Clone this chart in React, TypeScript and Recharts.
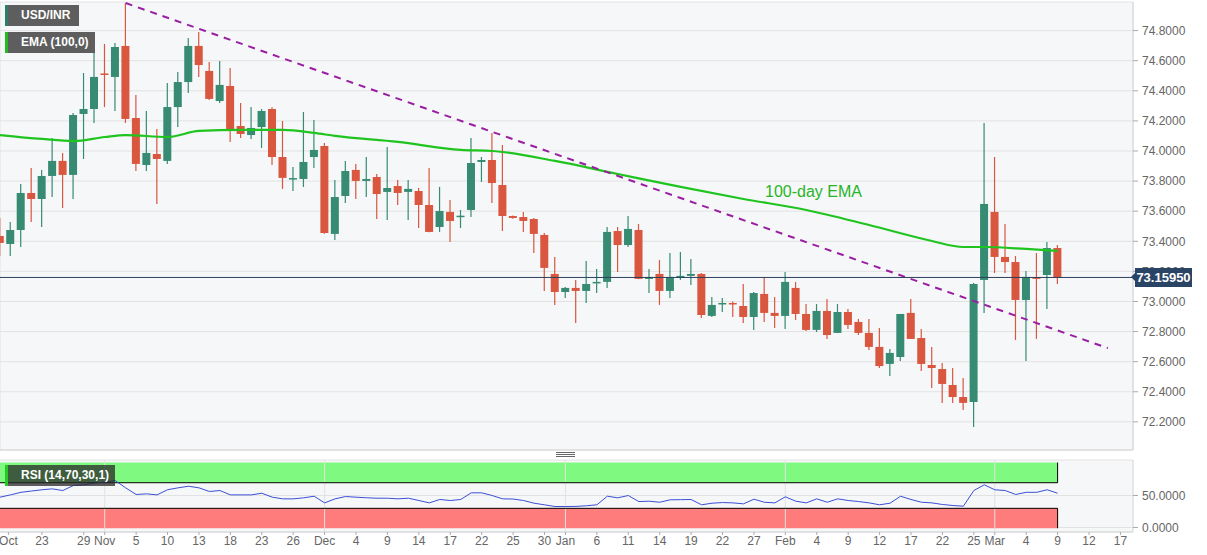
import {
  Bar,
  CartesianGrid,
  ComposedChart,
  Line,
  ReferenceArea,
  ReferenceLine,
  XAxis,
  YAxis,
} from "recharts"

// trading-day index: 0 = Oct 23, 97 = Mar 9
const days = Array.from({ length: 102 }, (_, k) => k - 4)

const openVals = [
  73.435, 73.382, 73.475, 73.721, 73.681, 73.834, 73.934, 73.841, 74.246, 74.279,
  74.515, 74.492, 74.698, 74.219, 73.907, 73.98, 73.934, 74.292, 74.458, 74.698,
  74.532, 74.332, 74.432, 74.166, 74.106, 74.159, 74.279, 73.96, 73.814, 73.814,
  73.96, 74.033, 73.449, 73.701, 73.874, 73.801, 73.827, 73.728, 73.767, 73.728,
  73.734, 73.641, 73.495, 73.595, 73.565, 73.608, 73.927, 73.94, 73.774, 73.568,
  73.561, 73.548, 73.442, 73.183, 73.063, 73.09, 73.07, 73.123, 73.13, 73.468,
  73.375, 73.475, 73.15, 73.183, 73.07, 73.156, 73.17, 73.183, 72.904, 72.984,
  72.99, 72.97, 72.897, 73.05, 72.924, 72.904, 73.09, 72.917, 72.811, 72.937,
  72.791, 72.93, 72.864, 72.791, 72.698, 72.585, 72.631, 72.924, 72.757, 72.578,
  72.551, 72.445, 72.365, 72.332, 73.143, 73.595, 73.296, 73.262, 73.01, 73.16,
  73.176, 73.355,
]
const highVals = [
  73.555, 73.528, 73.781, 73.887, 73.874, 74.086, 73.987, 74.252, 74.518, 74.684,
  74.711, 74.718, 74.983, 74.372, 74.266, 74.146, 74.452, 74.525, 74.751, 74.791,
  74.591, 74.598, 74.551, 74.319, 74.292, 74.279, 74.29, 74.199, 73.894, 74.259,
  74.206, 74.053, 73.807, 73.934, 73.914, 73.96, 73.847, 74.027, 73.807, 73.807,
  73.754, 73.887, 73.761, 73.674, 73.608, 74.086, 73.96, 74.12, 74.04, 73.572,
  73.595, 73.555, 73.455, 73.296, 73.096, 73.143, 73.269, 73.216, 73.495, 73.495,
  73.568, 73.515, 73.216, 73.276, 73.322, 73.329, 73.283, 73.19, 73.03, 73.023,
  73.0, 73.116, 73.063, 73.163, 73.03, 73.196, 73.13, 72.983, 72.983, 73.017,
  72.983, 72.95, 72.884, 72.884, 72.824, 72.684, 72.917, 73.017, 72.817, 72.698,
  72.591, 72.558, 72.492, 73.123, 74.186, 73.96, 73.515, 73.302, 73.203, 73.322,
  73.395, 73.375,
]
const lowVals = [
  73.302, 73.302, 73.362, 73.528, 73.495, 73.694, 73.621, 73.681, 73.947, 74.186,
  74.292, 74.266, 74.186, 73.867, 73.867, 73.648, 73.914, 74.159, 74.385, 74.492,
  74.339, 74.319, 74.06, 74.086, 74.08, 74.02, 73.907, 73.748, 73.734, 73.761,
  73.887, 73.45, 73.409, 73.654, 73.681, 73.694, 73.548, 73.542, 73.641, 73.542,
  73.488, 73.46, 73.462, 73.395, 73.488, 73.561, 73.794, 73.654, 73.468, 73.55,
  73.462, 73.322, 73.07, 72.977, 73.023, 72.857, 72.99, 73.056, 73.09, 73.196,
  73.362, 73.148, 73.056, 72.977, 73.023, 73.143, 73.11, 72.89, 72.897, 72.93,
  72.897, 72.857, 72.811, 72.864, 72.824, 72.817, 72.877, 72.804, 72.797, 72.751,
  72.79, 72.817, 72.777, 72.678, 72.558, 72.505, 72.605, 72.75, 72.538, 72.425,
  72.326, 72.326, 72.279, 72.166, 72.924, 73.189, 73.189, 72.744, 72.605, 72.751,
  72.95, 73.116,
]
const closeVals = [
  73.389, 73.475, 73.721, 73.681, 73.834, 73.934, 73.841, 74.239, 74.279, 74.492,
  74.508, 74.691, 74.213, 73.914, 73.987, 73.947, 74.292, 74.458, 74.698, 74.571,
  74.346, 74.439, 74.146, 74.113, 74.153, 74.266, 73.96, 73.821, 73.82, 73.927,
  74.007, 73.455, 73.694, 73.867, 73.801, 73.814, 73.714, 73.754, 73.721, 73.748,
  73.641, 73.462, 73.601, 73.535, 73.57, 73.92, 73.94, 73.787, 73.568, 73.555,
  73.535, 73.449, 73.223, 73.063, 73.09, 73.07, 73.116, 73.13, 73.462, 73.375,
  73.482, 73.15, 73.163, 73.07, 73.163, 73.17, 73.183, 72.91, 72.977, 72.99,
  72.984, 72.897, 73.056, 72.924, 72.904, 73.13, 72.917, 72.811, 72.937, 72.777,
  72.93, 72.844, 72.791, 72.698, 72.571, 72.658, 72.917, 72.751, 72.585, 72.558,
  72.452, 72.365, 72.326, 73.116, 73.648, 73.296, 73.262, 73.01, 73.163, 73.155,
  73.355, 73.16,
]
const rsiVals = [
  47.4, 51, 55, 57, 59, 60.4, 57.8, 65.6, 66.7, 69.3,
  71, 73.4, 62, 51.6, 52.6, 51, 59, 62, 64.5, 62,
  56.3, 57.8, 51, 51, 51, 53.6, 47.4, 44.8, 44.8, 46.4,
  48.9, 38.5, 44.8, 48.4, 47.4, 46.5, 45.8, 45.8, 44.8, 45.8,
  42.2, 38.5, 43.8, 42.2, 43.8, 54.2, 54.2, 50, 44.8, 44.5,
  42.2, 38, 35.5, 32.8, 32.8, 33, 34, 35.5, 48.9, 46.4,
  50, 40.6, 41.1, 39.5, 43.3, 43.5, 43.8, 35.5, 38, 39,
  38.5, 37, 44.2, 39.5, 38.5, 48, 41.1, 38.5, 44.8, 39.5,
  44.8, 42.2, 40.6, 38.5, 35.5, 38, 48.9, 43.8, 39.5, 38.5,
  36, 34.4, 33.3, 57.8, 66.7, 59, 57.8, 51.6, 55, 55,
  59, 53.6,
]

const emaDays = [-4, 0, 3, 6, 8, 12, 15, 19, 23, 26, 28, 34, 40, 43, 49, 55, 61, 67, 73, 79, 85, 88, 90, 94, 97]
const emaVals = [
  74.106, 74.08, 74.066, 74.093, 74.106, 74.093, 74.133, 74.14, 74.14, 74.12, 74.1, 74.06, 74.007,
  74.0, 73.934, 73.847, 73.761, 73.681, 73.608, 73.508, 73.402, 73.362, 73.362, 73.349, 73.336,
]

const trendPts = [
  { x: 8, y: 74.983 },
  { x: 101.8, y: 72.69 },
]
const lastPrice = 73.1595

const priceTicks = [72.2, 72.4, 72.6, 72.8, 73.0, 73.2, 73.4, 73.6, 73.8, 74.0, 74.2, 74.4, 74.6, 74.8]
const rsiTicks = [0, 50]
const monthDays = [6, 27, 50, 71, 91]
const tickDays = [
  -3.2, 0, 4, 6, 9, 12, 15, 18, 21, 24, 27, 30, 33, 36, 39, 42, 45, 48, 50, 53, 56, 59, 62, 65, 68,
  71, 74, 77, 80, 83, 86, 89, 91, 94, 97, 100, 103,
]
const tickLabels = [
  "Oct", "23", "29", "Nov", "5", "10", "13", "18", "23", "26", "Dec", "4", "9", "14", "17", "22",
  "25", "30", "Jan", "6", "11", "14", "19", "22", "27", "Feb", "4", "9", "12", "17", "22", "25",
  "Mar", "4", "9", "12", "17",
]

const rows = days.map((d, k) => {
  const e = emaDays.indexOf(d)
  return {
    d,
    open: openVals[k],
    high: highVals[k],
    low: lowVals[k],
    close: closeVals[k],
    rsi: rsiVals[k],
    ema: e >= 0 ? emaVals[e] : null,
  }
})

const GREEN = "#368b72"
const RED = "#d9563f"
const FONT = "'Liberation Sans', Arial, sans-serif"
const X_DOMAIN: [number, number] = [-4, 104.2]
const Y_DOMAIN: [number, number] = [72.013, 74.99]
const PLOT_TOP = 2
const PLOT_H = 448

const Candle = (props: any) => {
  const { x, y, width, height, payload } = props
  if (!payload || height == null) return null
  const { open, close, high, low } = payload
  const up = close >= open
  const color = up ? GREEN : RED
  const ratio = high > low ? height / (high - low) : 0
  const top = y + (high - Math.max(open, close)) * ratio
  const bot = y + (high - Math.min(open, close)) * ratio
  const cx = x + width / 2
  return (
    <g>
      <line x1={cx} x2={cx} y1={y} y2={y + height} stroke={color} strokeWidth={1.2} />
      <rect x={x} y={top} width={width} height={Math.max(1.5, bot - top)} fill={color} />
    </g>
  )
}

const tag = (bg: string, strip: string): React.CSSProperties => ({
  position: "absolute",
  background: bg,
  borderLeft: `3px solid ${strip}`,
  color: "#fff",
  fontSize: 12,
  fontWeight: "bold",
  fontFamily: FONT,
  lineHeight: "21px",
  height: 21,
  paddingLeft: 13,
  boxSizing: "border-box",
})

// vertical position of the last-price tag, from the axis domain
const priceY = PLOT_TOP + ((Y_DOMAIN[1] - lastPrice) / (Y_DOMAIN[1] - Y_DOMAIN[0])) * PLOT_H

export default function App() {
  return (
    <div style={{ position: "absolute", left: 0, top: 0, width: 1207, height: 555, background: "#fff", fontFamily: FONT }}>
      <div style={{ position: "absolute", left: 0, top: 0 }}>
        <ComposedChart width={1207} height={452} data={rows} margin={{ top: PLOT_TOP, right: 0, left: 0, bottom: 0 }}>
          <CartesianGrid fill="#f6f7f9" stroke="#e2e2e2" horizontal vertical />
          <XAxis
            dataKey="d"
            type="number"
            domain={X_DOMAIN}
            allowDataOverflow
            ticks={monthDays}
            tick={false}
            tickLine={false}
            height={2}
            axisLine={{ stroke: "#d4d4d4" }}
          />
          <YAxis
            orientation="right"
            width={74}
            type="number"
            domain={Y_DOMAIN}
            allowDataOverflow
            ticks={priceTicks}
            interval={0}
            tickFormatter={(v: number) => v.toFixed(4)}
            tick={{ fill: "#666", fontSize: 12, fontFamily: FONT }}
            tickLine={{ stroke: "#aaa" }}
            tickSize={5}
            tickMargin={4}
            axisLine={{ stroke: "#d4d4d4" }}
          />
          <Bar dataKey={(r: any) => [r.low, r.high]} barSize={8} shape={Candle} isAnimationActive={false} />
          <Line
            dataKey="ema"
            type="monotone"
            connectNulls
            stroke="#1fc41f"
            strokeWidth={2.2}
            dot={false}
            activeDot={false}
            isAnimationActive={false}
          />
          <ReferenceLine segment={trendPts} stroke="#9a1ea2" strokeWidth={2} strokeDasharray="7 6" />
          <ReferenceLine y={lastPrice} stroke="#2b3f5c" strokeWidth={1} />
        </ComposedChart>
      </div>

      <div style={{ position: "absolute", left: 0, top: 457 }}>
        <ComposedChart width={1207} height={98} data={rows} margin={{ top: 3, right: 0, left: 0, bottom: 0 }}>
          <CartesianGrid fill="#f6f7f9" stroke="#e2e2e2" horizontal vertical={false} />
          {monthDays.map((m) => (
            <ReferenceLine key={m} x={m} stroke="#e2e2e2" />
          ))}
          <XAxis
            dataKey="d"
            type="number"
            domain={X_DOMAIN}
            allowDataOverflow
            ticks={tickDays}
            interval={0}
            tickFormatter={(v: number) => tickLabels[tickDays.indexOf(v)] ?? ""}
            tick={{ fill: "#666", fontSize: 12, fontFamily: FONT }}
            tickLine={{ stroke: "#aaa" }}
            tickSize={3}
            tickMargin={1}
            height={23}
            axisLine={{ stroke: "#d4d4d4" }}
          />
          <YAxis
            orientation="right"
            width={74}
            type="number"
            domain={[-7, 105.5]}
            allowDataOverflow
            ticks={rsiTicks}
            interval={0}
            tickFormatter={(v: number) => v.toFixed(4)}
            tick={{ fill: "#666", fontSize: 12, fontFamily: FONT }}
            tickLine={{ stroke: "#aaa" }}
            tickSize={5}
            tickMargin={4}
            axisLine={{ stroke: "#d4d4d4" }}
          />
          <ReferenceArea x1={-4} x2={97} y1={70} y2={101.5} fill="#7ff97f" fillOpacity={1} stroke="none" />
          <ReferenceArea x1={-4} x2={97} y1={-1} y2={30} fill="#ff7c7c" fillOpacity={1} stroke="none" />
          <ReferenceLine segment={[{ x: -4, y: 70 }, { x: 97, y: 70 }]} stroke="#000" />
          <ReferenceLine segment={[{ x: -4, y: 30 }, { x: 97, y: 30 }]} stroke="#000" />
          <ReferenceLine segment={[{ x: 97, y: 70 }, { x: 97, y: 101.5 }]} stroke="#000" />
          <ReferenceLine segment={[{ x: 97, y: -1 }, { x: 97, y: 30 }]} stroke="#000" />
          <Line
            dataKey="rsi"
            type="linear"
            stroke="#3b4fd6"
            strokeWidth={1}
            dot={false}
            activeDot={false}
            isAnimationActive={false}
          />
        </ComposedChart>
      </div>

      <div style={{ ...tag("#5e5e5e", "#2e7d6b"), left: 5, top: 5, width: 74 }}>USD/INR</div>
      <div style={{ ...tag("#5e5e5e", "#22bb22"), left: 5, top: 32, width: 90 }}>EMA (100,0)</div>
      <div style={{ ...tag("rgba(40,40,40,0.75)", "#22cc22"), left: 5, top: 465, width: 110 }}>RSI (14,70,30,1)</div>
      <div style={{ position: "absolute", left: 765, top: 183, color: "#27b527", fontSize: 16, fontFamily: FONT }}>
        100-day EMA
      </div>
      <div
        style={{
          position: "absolute",
          left: 1135,
          top: priceY - 9.5,
          width: 57,
          height: 19,
          background: "#2a4466",
          color: "#fff",
          fontSize: 13,
          fontWeight: "bold",
          fontFamily: FONT,
          lineHeight: "19px",
          textAlign: "center",
        }}
      >
        {lastPrice.toFixed(5)}
        <div
          style={{
            position: "absolute",
            left: -4,
            top: 5.5,
            width: 0,
            height: 0,
            borderTop: "4px solid transparent",
            borderBottom: "4px solid transparent",
            borderRight: "4px solid #2a4466",
          }}
        />
      </div>
      <div style={{ position: "absolute", left: 556, top: 452, width: 19 }}>
        {[0, 1, 2].map((k) => (
          <div key={k} style={{ height: 1, background: "#666", marginBottom: 1 }} />
        ))}
      </div>
    </div>
  )
}
